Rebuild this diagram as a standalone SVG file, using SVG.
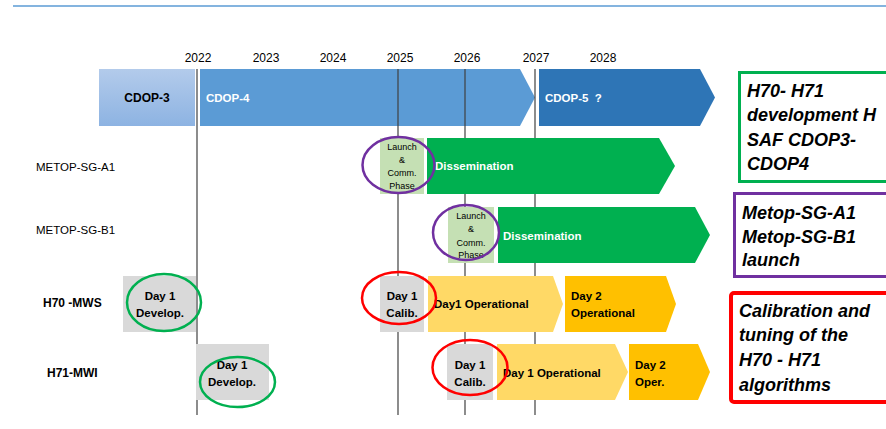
<svg xmlns="http://www.w3.org/2000/svg" width="886" height="429" viewBox="0 0 886 429">
<defs>
<linearGradient id="g3" x1="0" y1="0" x2="0" y2="1">
<stop offset="0" stop-color="#b3cbeb"/>
<stop offset="1" stop-color="#8db3e2"/>
</linearGradient>
<style>
text{font-family:"Liberation Sans",Arial,sans-serif;fill:#000}
.yr{font-size:12px;text-anchor:middle}
.row{font-size:11.5px}
.rowb{font-size:12px;font-weight:bold}
.wb{font-size:11.5px;font-weight:bold;fill:#fff;white-space:pre}
.lc{font-size:9px;text-anchor:middle}
.gb{font-size:11.5px;font-weight:bold;text-anchor:middle}
.yb{font-size:11.5px;font-weight:bold}
.big{font-size:18px;font-weight:bold;font-style:italic}
.vl{stroke:#404040;stroke-width:1.2}
.ell{fill:none;stroke-width:2.5}
</style>
</defs>
<line x1="13" y1="6" x2="886" y2="6" stroke="#5b9bd5" stroke-width="1.5"/>
<g id="years">
<text class="yr" x="198" y="62">2022</text>
<text class="yr" x="266" y="62">2023</text>
<text class="yr" x="333" y="62">2024</text>
<text class="yr" x="400" y="62">2025</text>
<text class="yr" x="467" y="62">2026</text>
<text class="yr" x="536" y="62">2027</text>
<text class="yr" x="603" y="62">2028</text>
</g>
<g id="cdop3"><rect x="99" y="69" width="96" height="57" fill="url(#g3)"/><text class="rowb" x="147" y="102" text-anchor="middle">CDOP-3</text></g>
<g id="cdop4"><polygon points="200,69 520,69 535,97.5 520,126 200,126" fill="#5b9bd5"/><text class="wb" x="206" y="102">CDOP-4</text></g>
<g id="cdop5"><polygon points="539,69 700,69 715,97.5 700,126 539,126" fill="#2e75b6"/><text class="wb" x="545" y="102">CDOP-5  ?</text></g>
<g id="gridlines">
<line class="vl" x1="197" y1="69" x2="197" y2="415"/>
<line class="vl" x1="398" y1="69" x2="398" y2="415"/>
<line class="vl" x1="465" y1="69" x2="465" y2="415"/>
<line class="vl" x1="535" y1="69" x2="535" y2="415"/>
</g>
<g id="labels">
<text class="row" x="36" y="171">METOP-SG-A1</text>
<text class="row" x="36" y="234">METOP-SG-B1</text>
<text class="rowb" x="43" y="307">H70 -MWS</text>
<text class="rowb" x="47" y="377">H71-MWI</text>
</g>
<g id="a1-launch"><rect x="380" y="138" width="44" height="56" fill="#c5e0b4"/>
<text class="lc" x="402" y="150">Launch</text><text class="lc" x="402" y="163">&amp;</text><text class="lc" x="402" y="176">Comm.</text><text class="lc" x="402" y="189">Phase</text></g>
<g id="a1-diss"><polygon points="427,138 659,138 675,166 659,194 427,194" fill="#00b050"/><text class="wb" x="435" y="170">Dissemination</text></g>
<g id="b1-launch"><rect x="448" y="207" width="46" height="56" fill="#c5e0b4"/>
<text class="lc" x="471" y="219">Launch</text><text class="lc" x="471" y="232">&amp;</text><text class="lc" x="471" y="246">Comm.</text><text class="lc" x="471" y="258">Phase</text></g>
<g id="b1-diss"><polygon points="498,207 695,207 710,235 695,263 498,263" fill="#00b050"/><text class="wb" x="503" y="240">Dissemination</text></g>
<g id="h70-dev"><rect x="123" y="276" width="73" height="56" fill="#d9d9d9"/><text class="gb" x="160" y="300">Day 1</text><text class="gb" x="160" y="317">Develop.</text></g>
<g id="h70-cal"><rect x="380" y="276" width="44" height="56" fill="#d9d9d9"/><text class="gb" x="402" y="300">Day 1</text><text class="gb" x="402" y="317">Calib.</text></g>
<g id="h70-op1"><polygon points="428,276 553,276 563,304 553,332 428,332" fill="#ffd966"/><text class="yb" x="434" y="308">Day1 Operational</text></g>
<g id="h70-op2"><polygon points="565,276 666,276 676,304 666,332 565,332" fill="#ffc000"/><text class="yb" x="571" y="300">Day 2</text><text class="yb" x="571" y="317">Operational</text></g>
<g id="h71-dev"><rect x="196" y="344" width="73" height="56" fill="#d9d9d9"/><text class="gb" x="232" y="369">Day 1</text><text class="gb" x="232" y="386">Develop.</text></g>
<g id="h71-cal"><rect x="447" y="344" width="46" height="56" fill="#d9d9d9"/><text class="gb" x="470" y="369">Day 1</text><text class="gb" x="470" y="386">Calib.</text></g>
<g id="h71-op1"><polygon points="497,344 615,344 628,372 615,400 497,400" fill="#ffd966"/><text class="yb" x="503" y="377">Day 1 Operational</text></g>
<g id="h71-op2"><polygon points="629,344 698,344 710,372 698,400 629,400" fill="#ffc000"/><text class="yb" x="635" y="369">Day 2</text><text class="yb" x="635" y="386">Oper.</text></g>
<g id="ellipses">
<ellipse class="ell" cx="398.5" cy="165" rx="36" ry="28" stroke="#7030a0"/>
<ellipse class="ell" cx="466" cy="232.5" rx="33" ry="27.5" stroke="#7030a0"/>
<ellipse class="ell" cx="164" cy="302.5" rx="37" ry="28.5" stroke="#00b050"/>
<ellipse class="ell" cx="399" cy="298" rx="37" ry="26" stroke="#ff0000"/>
<ellipse class="ell" cx="237.5" cy="382" rx="37.5" ry="25" stroke="#00b050"/>
<ellipse class="ell" cx="470" cy="367.5" rx="37.5" ry="27.5" stroke="#ff0000"/>
</g>
<g id="note-green"><rect x="739.5" y="72.5" width="152" height="109" fill="#fff" stroke="#00b050" stroke-width="3"/>
<text class="big" x="747" y="96.5">H70- H71</text><text class="big" x="747" y="121">development H</text><text class="big" x="747" y="145.5">SAF CDOP3-</text><text class="big" x="747" y="170">CDOP4</text></g>
<g id="note-purple"><rect x="734.5" y="193.5" width="157" height="83" fill="#fff" stroke="#7030a0" stroke-width="3"/>
<text class="big" x="742" y="218.5">Metop-SG-A1</text><text class="big" x="742" y="242.5">Metop-SG-B1</text><text class="big" x="742" y="265.5">launch</text></g>
<g id="note-red"><rect x="731" y="293" width="160" height="109" rx="3" fill="#fff" stroke="#ff0000" stroke-width="4"/>
<text class="big" x="739" y="316.5">Calibration and</text><text class="big" x="739" y="340.5">tuning of the</text><text class="big" x="739" y="365.5">H70 - H71</text><text class="big" x="739" y="390.5">algorithms</text></g>
</svg>
